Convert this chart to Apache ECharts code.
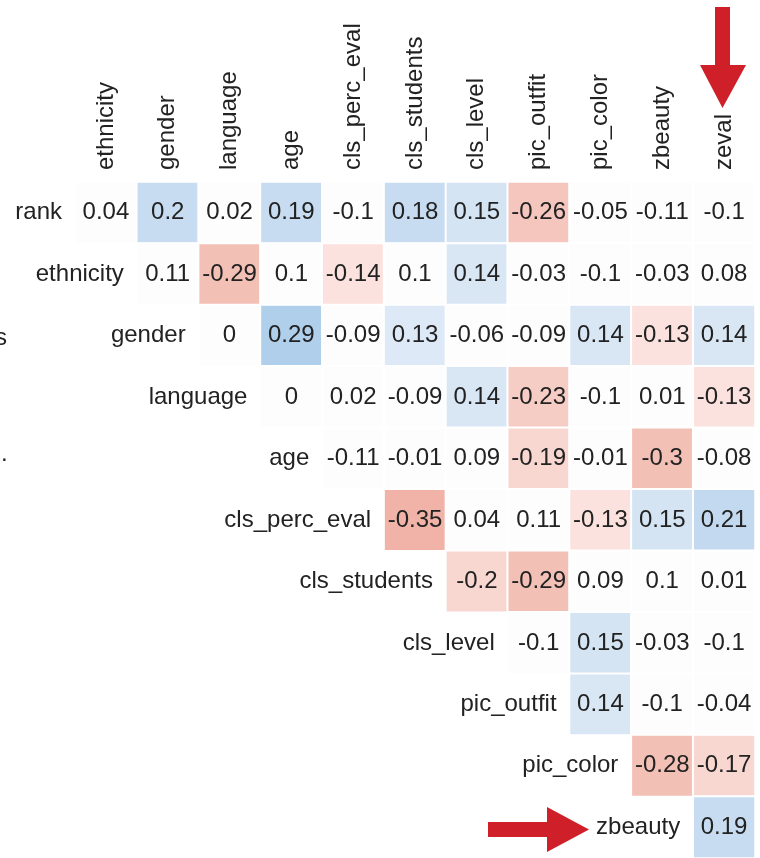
<!DOCTYPE html>
<html>
<head>
<meta charset="utf-8">
<script src="https://cdn.jsdelivr.net/npm/echarts@6/dist/echarts.min.js"></script>
<style>
html,body{margin:0;padding:0;background:#fff;}
#chart{width:760px;height:858px;}
</style>
</head>
<body>
<div id="chart"></div>
<script>
// Column variables (top axis)
var colLabels = ['ethnicity','gender','language','age','cls_perc_eval','cls_students','cls_level','pic_outfit','pic_color','zbeauty','zeval'];
// Row variables
var rowLabels = ['rank','ethnicity','gender','language','age','cls_perc_eval','cls_students','cls_level','pic_outfit','pic_color','zbeauty'];
// Upper-triangle correlation values; each row starts at column index = row index
var rowRank        = [0.04, 0.2, 0.02, 0.19, -0.1, 0.18, 0.15, -0.26, -0.05, -0.11, -0.1];
var rowEthnicity   = [0.11, -0.29, 0.1, -0.14, 0.1, 0.14, -0.03, -0.1, -0.03, 0.08];
var rowGender      = [0, 0.29, -0.09, 0.13, -0.06, -0.09, 0.14, -0.13, 0.14];
var rowLanguage    = [0, 0.02, -0.09, 0.14, -0.23, -0.1, 0.01, -0.13];
var rowAge         = [-0.11, -0.01, 0.09, -0.19, -0.01, -0.3, -0.08];
var rowPercEval    = [-0.35, 0.04, 0.11, -0.13, 0.15, 0.21];
var rowStudents    = [-0.2, -0.29, 0.09, 0.1, 0.01];
var rowLevel       = [-0.1, 0.15, -0.03, -0.1];
var rowOutfit      = [0.14, -0.1, -0.04];
var rowColor       = [-0.28, -0.17];
var rowBeauty      = [0.19];

var rows = [rowRank,rowEthnicity,rowGender,rowLanguage,rowAge,rowPercEval,rowStudents,rowLevel,rowOutfit,rowColor,rowBeauty];
var heatData = [];
rows.forEach(function(vals, r){
  vals.forEach(function(v, k){ heatData.push([r + k, r, v]); });
});
var labelData = rowLabels.map(function(name, r){ return [r, r, name]; });

var FONT = 'Liberation Sans, Arial, sans-serif';
var chart = echarts.init(document.getElementById('chart'), null, {renderer:'canvas'});
chart.setOption({
  animation: false,
  backgroundColor: '#ffffff',
  grid: {left: 75, right: 5, top: 182, bottom: 0, containLabel: false},
  xAxis: {
    type: 'category', position: 'top', data: colLabels,
    axisLine: {show: false}, axisTick: {show: false}, splitLine: {show: false},
    axisLabel: {show: false}
  },
  yAxis: {
    type: 'category', data: rowLabels, inverse: true,
    axisLine: {show: false}, axisTick: {show: false}, axisLabel: {show: false}, splitLine: {show: false}
  },
  visualMap: {
    type: 'piecewise', show: false, dimension: 2, seriesIndex: 0,
    pieces: [
      {lt: -0.32, color: '#f1b3a7'},
      {gte: -0.32, lt: -0.275, color: '#f3c0b6'},
      {gte: -0.275, lt: -0.245, color: '#f4c6bd'},
      {gte: -0.245, lt: -0.215, color: '#f6cdc5'},
      {gte: -0.215, lt: -0.16, color: '#f8d7d1'},
      {gte: -0.16, lt: -0.12, color: '#fbe2de'},
      {gte: -0.12, lte: 0.12, color: '#fdfdfd'},
      {gt: 0.12, lte: 0.135, color: '#dde9f6'},
      {gt: 0.135, lte: 0.145, color: '#d9e7f5'},
      {gt: 0.145, lte: 0.165, color: '#d4e4f3'},
      {gt: 0.165, lte: 0.205, color: '#c7dcf0'},
      {gt: 0.205, lte: 0.25, color: '#c3d9ef'},
      {gt: 0.25, color: '#b0cfeb'}
    ]
  },
  series: [
    {
      type: 'heatmap',
      data: heatData,
      itemStyle: {borderColor: '#ffffff', borderWidth: 2},
      label: {
        show: true, fontSize: 24, color: '#222', fontFamily: FONT,
        formatter: function(p){ return String(p.value[2]); }
      },
      emphasis: {disabled: true}
    },
    {
      // row labels, placed just left of each row's first cell
      type: 'custom',
      data: labelData,
      silent: true,
      renderItem: function(params, api){
        var pt = api.coord([api.value(0), api.value(1)]);
        var sz = api.size([1, 1]);
        return {
          type: 'text',
          style: {
            x: pt[0] - sz[0] / 2 - 13, y: pt[1],
            text: labelData[params.dataIndex][2],
            textAlign: 'right', textVerticalAlign: 'middle',
            fontSize: 24, fontFamily: FONT, fill: '#222'
          }
        };
      }
    },
    {
      // column labels, rotated, reading bottom to top, above the grid
      type: 'custom',
      data: colLabels.map(function(name, c){ return [c, 0, name]; }),
      silent: true,
      renderItem: function(params, api){
        var pt = api.coord([api.value(0), api.value(1)]);
        var sz = api.size([1, 1]);
        return {
          type: 'text',
          x: pt[0], y: pt[1] - sz[1] / 2 - 12,
          rotation: Math.PI / 2,
          style: {
            x: 0, y: 0,
            text: colLabels[params.dataIndex],
            textAlign: 'left', textVerticalAlign: 'middle',
            fontSize: 24, fontFamily: FONT, fill: '#222'
          }
        };
      }
    }
  ],
  graphic: [
    {type: 'text', left: -5, top: 326, style: {text: 's', fontSize: 24, fontFamily: FONT, fill: '#222'}},
    {type: 'text', left: 1, top: 442, style: {text: '.', fontSize: 24, fontFamily: FONT, fill: '#222'}},
    {type: 'polygon', shape: {points: [[715,7],[730,7],[730,65],[746,65],[722.5,108],[700,65],[715,65]]}, style: {fill: '#cf2029'}},
    {type: 'polygon', shape: {points: [[488,822],[547,822],[547,807],[589,829.5],[547,852],[547,837],[488,837]]}, style: {fill: '#cf2029'}}
  ]
});
</script>
</body>
</html>
